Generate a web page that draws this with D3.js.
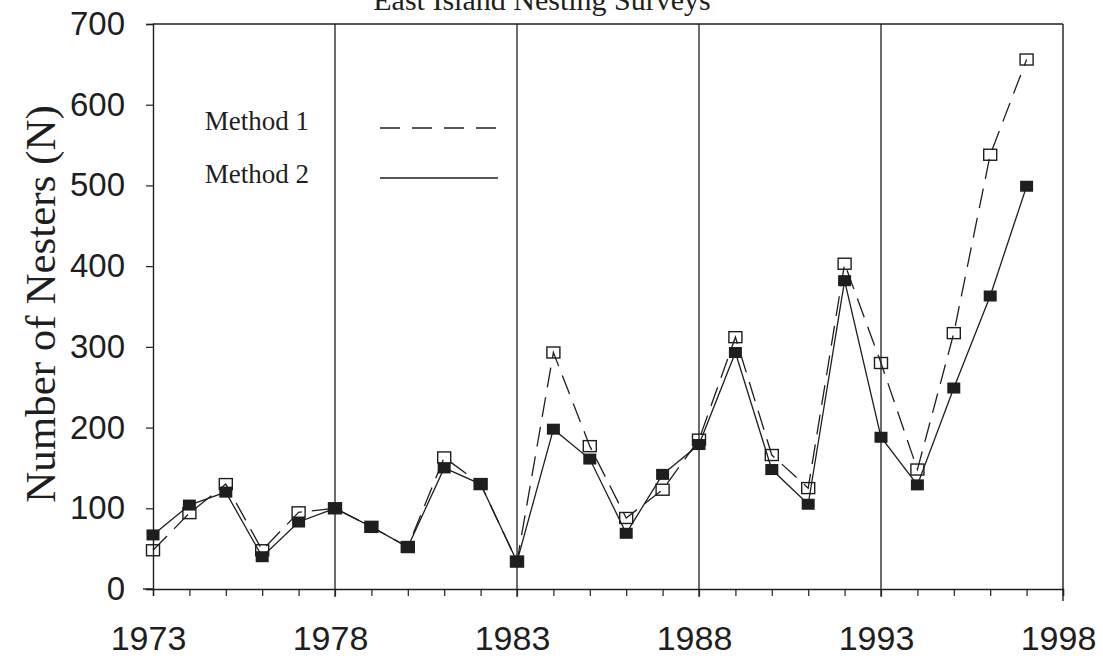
<!DOCTYPE html>
<html>
<head>
<meta charset="utf-8">
<script src="https://cdn.jsdelivr.net/npm/d3@7"></script>
<style>
  html, body { margin: 0; padding: 0; background: #fff; }
  svg { display: block; }
</style>
</head>
<body>
<svg id="chart" width="1103" height="667"></svg>
<script>
const title = "East Island Nesting Surveys";
const yLabel = "Number of Nesters (N)";
const years = [1973,1974,1975,1976,1977,1978,1979,1980,1981,1982,1983,1984,1985,1986,1987,1988,1989,1990,1991,1992,1993,1994,1995,1996,1997];
const method1 = [48, 94, 130, 48, 95, 100, 77, 52, 163, 130, 34, 293, 177, 88, 123, 185, 312, 166, 125, 403, 280, 148, 317, 538, 656];
const method2 = [67, 104, 120, 40, 83, 100, 77, 52, 150, 130, 34, 198, 161, 69, 142, 179, 293, 148, 105, 382, 188, 129, 249, 363, 499];
const xTickLabels = [1973, 1978, 1983, 1988, 1993, 1998];
const yTickValues = [0, 100, 200, 300, 400, 500, 600, 700];
const dividers = [1978, 1983, 1988, 1993];
const legendNames = ["Method 1", "Method 2"];

const ink = "#1e1e1e";
const svg = d3.select("#chart");
const x = d3.scaleLinear().domain([1973, 1998]).range([153, 1063]);
const y = d3.scaleLinear().domain([0, 700]).range([589, 24]);

// title (partially cut at top, as in the reference)
svg.append("text").attr("x", 542).attr("y", 10)
  .attr("text-anchor", "middle")
  .attr("font-family", "Liberation Serif, Times New Roman, serif")
  .attr("font-size", 30).attr("fill", ink).text(title);

// y axis label
svg.append("text")
  .attr("transform", `translate(55,304) rotate(-90)`)
  .attr("text-anchor", "middle")
  .attr("font-family", "Liberation Serif, Times New Roman, serif")
  .attr("font-size", 43).attr("fill", ink).text(yLabel);

// plot frame: top and right
svg.append("line").attr("x1", x(1973)).attr("x2", x(1998)).attr("y1", y(700)).attr("y2", y(700))
  .attr("stroke", ink).attr("stroke-width", 1.4);
svg.append("line").attr("x1", x(1998)).attr("x2", x(1998)).attr("y1", y(700)).attr("y2", y(0) + 12)
  .attr("stroke", ink).attr("stroke-width", 1.4);

// dividers
svg.selectAll("line.div").data(dividers).join("line").attr("class", "div")
  .attr("x1", d => x(d)).attr("x2", d => x(d))
  .attr("y1", y(700)).attr("y2", y(0) + 8)
  .attr("stroke", ink).attr("stroke-width", 1.3);

// y axis
const yAxis = d3.axisLeft(y).tickValues(yTickValues).tickSize(7).tickPadding(21)
  .tickFormat(d3.format("d"));
const gy = svg.append("g").attr("transform", `translate(${x(1973)},0)`).call(yAxis);
gy.select(".domain").attr("stroke", ink).attr("stroke-width", 1.4);
gy.selectAll(".tick line").attr("stroke", ink).attr("stroke-width", 1.2);
gy.selectAll(".tick text").attr("font-family", "Liberation Sans, Arial, sans-serif")
  .attr("font-size", 33).attr("fill", ink);

// x axis
const xAxis = d3.axisBottom(x).tickValues(d3.range(1973, 1999)).tickSize(7).tickPadding(30)
  .tickFormat(d => xTickLabels.includes(d) ? d : "");
const gx = svg.append("g").attr("transform", `translate(0,${y(0)})`).call(xAxis);
gx.select(".domain").attr("stroke", ink).attr("stroke-width", 1.4);
gx.selectAll(".tick line").attr("stroke", ink).attr("stroke-width", 1.2);
gx.selectAll(".tick text").attr("font-family", "Liberation Sans, Arial, sans-serif")
  .attr("font-size", 34).attr("fill", ink).attr("dx", -5).attr("dy", "0.71em");
// extend baseline left slightly
svg.append("line").attr("x1", x(1973) - 10).attr("x2", x(1973)).attr("y1", y(0)).attr("y2", y(0))
  .attr("stroke", ink).attr("stroke-width", 1.4);

const d1 = years.map((yr, i) => [yr, method1[i]]);
const d2 = years.map((yr, i) => [yr, method2[i]]);
const line = d3.line().x(d => x(d[0])).y(d => y(d[1]));

svg.append("path").datum(d1).attr("d", line).attr("fill", "none")
  .attr("stroke", ink).attr("stroke-width", 1.3).attr("stroke-dasharray", "20,10");
svg.append("path").datum(d2).attr("d", line).attr("fill", "none")
  .attr("stroke", ink).attr("stroke-width", 1.3);

const mw = 13, mh = 11;
svg.selectAll("rect.m1").data(d1).join("rect").attr("class", "m1")
  .attr("x", d => x(d[0]) - mw / 2).attr("y", d => y(d[1]) - mh / 2)
  .attr("width", mw).attr("height", mh)
  .attr("fill", "none").attr("stroke", ink).attr("stroke-width", 1.4);
svg.selectAll("rect.m2").data(d2).join("rect").attr("class", "m2")
  .attr("x", d => x(d[0]) - mw / 2).attr("y", d => y(d[1]) - mh / 2)
  .attr("width", mw).attr("height", mh)
  .attr("fill", ink);

// legend
const lg = svg.append("g");
const legendY = [130, 183];
lg.selectAll("text").data(legendNames).join("text")
  .attr("x", 309).attr("y", (d, i) => legendY[i])
  .attr("text-anchor", "end")
  .attr("font-family", "Liberation Serif, Times New Roman, serif")
  .attr("font-size", 27).attr("fill", ink).text(d => d);
lg.append("line").attr("x1", 380).attr("x2", 497).attr("y1", 128).attr("y2", 128)
  .attr("stroke", ink).attr("stroke-width", 1.3).attr("stroke-dasharray", "20,12");
lg.append("line").attr("x1", 380).attr("x2", 498).attr("y1", 178).attr("y2", 178)
  .attr("stroke", ink).attr("stroke-width", 1.3);
</script>
</body>
</html>
